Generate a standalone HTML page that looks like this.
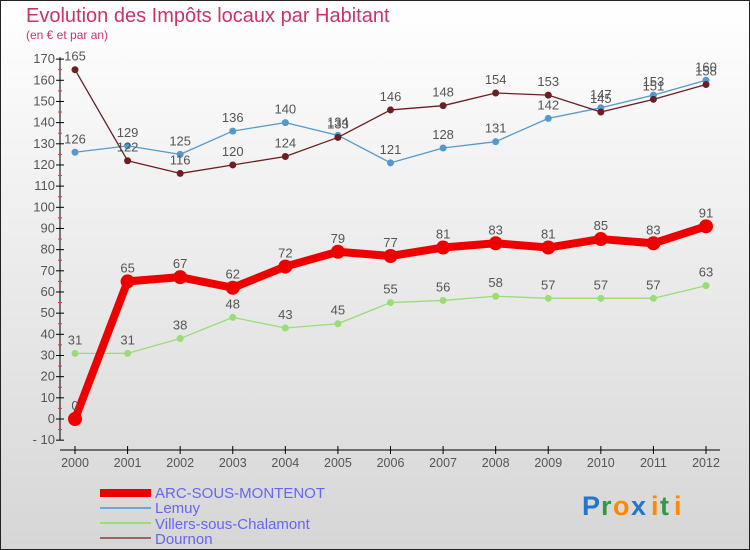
<!DOCTYPE html>
<html><head><meta charset="utf-8"><style>
body{margin:0;width:750px;height:550px;overflow:hidden;font-family:"Liberation Sans",sans-serif}
svg{display:block}
</style></head><body>
<svg id="c" width="750" height="550" xmlns="http://www.w3.org/2000/svg">
<defs><linearGradient id="bg" x1="0" y1="0" x2="0" y2="1"><stop offset="0" stop-color="#ffffff"/><stop offset="1" stop-color="#d6d6d6"/></linearGradient></defs>
<rect x="0.5" y="0.5" width="749" height="549" fill="url(#bg)" stroke="#222"/>
<text x="26" y="22" font-size="20" fill="#c8336a">Evolution des Impôts locaux par Habitant</text>
<text x="26" y="39" font-size="12" fill="#c8336a">(en € et par an)</text>
<g id="axes"></g><g id="series"></g>
<g>
<rect x="100" y="489" width="51" height="8" fill="#ee0000"/>
<text x="155" y="498" font-size="15" fill="#6666ee">ARC-SOUS-MONTENOT</text>
<line x1="100" y1="508" x2="151" y2="508" stroke="#6fa8d0" stroke-width="2"/>
<text x="155" y="513" font-size="15" fill="#6666ee">Lemuy</text>
<line x1="100" y1="523" x2="151" y2="523" stroke="#99dd77" stroke-width="2"/>
<text x="155" y="529" font-size="15" fill="#6666ee">Villers-sous-Chalamont</text>
<line x1="100" y1="538" x2="151" y2="538" stroke="#996666" stroke-width="2"/>
<text x="155" y="544" font-size="15" fill="#6666ee">Dournon</text>
</g>
<g font-size="27" font-weight="bold">
<text x="582" y="515" fill="#2277cc">P</text><text x="601" y="515" fill="#339944">r</text><text x="613" y="515" fill="#ff8800">o</text><text x="631" y="515" fill="#2277cc">x</text><text x="651" y="515" fill="#ff8800">i</text><text x="660" y="515" fill="#339944">t</text><text x="674" y="515" fill="#ff8800">i</text>
</g>
</svg>
<script>
const years=["2000","2001","2002","2003","2004","2005","2006","2007","2008","2009","2010","2011","2012"];
const yTicks=[-10,0,10,20,30,40,50,60,70,80,90,100,110,120,130,140,150,160,170];
const arc=[0,65,67,62,72,79,77,81,83,81,85,83,91];
const lemuy=[126,129,125,136,140,134,121,128,131,142,147,153,160];
const villers=[31,31,38,48,43,45,55,56,58,57,57,57,63];
const dournon=[165,122,116,120,124,133,146,148,154,153,145,151,158];
const NS="http://www.w3.org/2000/svg";
const X=i=>75+i*(631/12);
const Y=v=>419-v*2.117;
function mk(t,a,p){const e=document.createElementNS(NS,t);for(const k in a)e.setAttribute(k,a[k]);p.appendChild(e);return e;}
const ax=document.getElementById('axes');
let l=mk('line',{x1:60,y1:Y(170)-2,x2:60,y2:Y(-10),stroke:'#000'},ax);


l=mk('line',{x1:60,y1:450,x2:720,y2:450,stroke:'#000'},ax);


yTicks.forEach(v=>{
 mk('line',{x1:56,y1:Y(v),x2:64,y2:Y(v),stroke:'#000'},ax);
 if(v<170)mk('line',{x1:58,y1:Y(v+5),x2:62,y2:Y(v+5),stroke:'#e33'},ax);
 const t=mk('text',{x:55,y:Y(v)+4,'font-size':13,fill:'#555','text-anchor':'end'},ax);
 t.textContent=v<0?'- '+(-v):v;
 
 
});
years.forEach((y,i)=>{
 mk('line',{x1:X(i),y1:446,x2:X(i),y2:454,stroke:'#000'},ax);
 const t=mk('text',{x:X(i),y:467,'font-size':12.5,fill:'#555','text-anchor':'middle'},ax);
 t.textContent=y;
 
 
});
const sg=document.getElementById('series');
function series(d,col,w,r,name){
 const g=mk('g',{},sg);
 
 
 mk('polyline',{points:d.map((v,i)=>X(i)+','+Y(v)).join(' '),fill:'none',stroke:col,'stroke-width':w,'stroke-linejoin':'round'},g);
 d.forEach((v,i)=>{
  const c=mk('circle',{cx:X(i),cy:Y(v),r:r,fill:col},g);
  
  
  const t=mk('text',{x:X(i),y:Y(v)-9,'font-size':13,fill:'#555','text-anchor':'middle'},g);
  t.textContent=v;
  
  
 });
}
series(villers,'#99dd77',1.3,3.5,'villers-series');
series(lemuy,'#5599cc',1.3,3.5,'lemuy-series');
series(dournon,'#6b1f24',1.3,3.5,'dournon-series');
series(arc,'#ee0000',8,7,'arc-series');
</script>
</body></html>
